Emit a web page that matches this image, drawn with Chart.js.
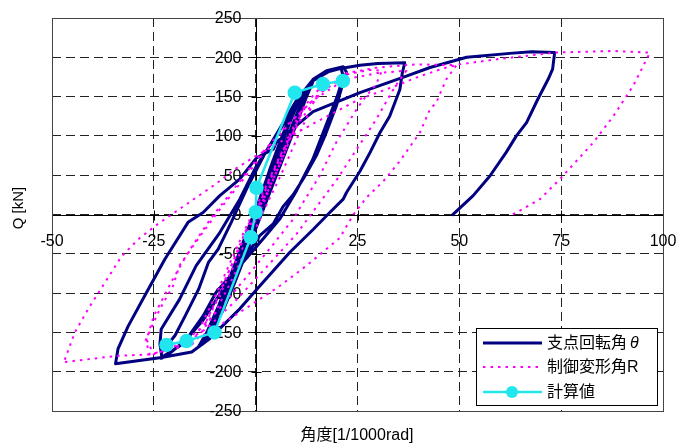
<!DOCTYPE html>
<html lang="ja">
  <head>
    <meta charset="UTF-8" />
    <title>Q - 角度</title>
    <script src="https://cdn.jsdelivr.net/npm/chart.js"></script>
    <style>
      body { margin: 0; background: #fff; }
    </style>
  </head>
  <body>
    <canvas id="qChart" width="691" height="448"></canvas>

    <script>
      // 目盛り
      const xTicks = [-50, -25, 0, 25, 50, 75, 100];
      const yTicks = [-250, -200, -150, -100, -50, 0, 50, 100, 150, 200, 250];

      // 支点回転角θ [x, Q]
      const thetaCurve = [
        [0, 0], [2, 25], [4, 55], [5.5, 80], [4.5, 65], [2, 30], [0, 0], [-2, -28], [-4, -55], [-5.5, -80], [-4.5, -66], [-2, -30], [0, 0],
        [2.5, 35], [5, 70], [7.5, 105], [9, 125], [7.5, 105], [5, 65], [2, 20], [-1, -20], [-4, -60], [-7, -100], [-9, -128], [-7.5, -110], [-5, -70], [-2, -25], [0.5, 10],
        [3, 50], [6, 92], [9, 130], [11, 150], [12.5, 160], [11, 140], [8, 100], [5, 55], [2, 15], [-1, -25], [-4, -65], [-7, -105], [-10, -140], [-12, -158], [-10.5, -140], [-8, -105], [-5, -62], [-2, -20], [1, 20],
        [4, 65], [7, 105], [10, 140], [13, 162], [11.5, 145], [9, 110], [6, 70], [3, 30], [0, -10], [-3, -50], [-6, -90], [-9, -130], [-11.5, -155], [-13, -165], [-11, -145], [-8, -110], [-5, -68], [-2, -28], [0.5, 5],
        [3.5, 58], [6.5, 100], [9.5, 138], [12, 158], [14, 168], [12.5, 150], [10, 115], [7, 75], [4, 35], [1, -5], [-2, -45], [-5, -85], [-8, -122], [-11, -150], [-14, -168], [-12, -150], [-9, -115], [-6, -75], [-3, -35], [0, 5],
        [3, 45], [6, 88], [9, 125], [11.5, 155], [14.1, 172], [17.4, 183], [21.5, 188], [22.3, 181], [21.5, 168], [19.8, 138], [17, 100], [14.9, 75], [12, 48], [9.2, 25], [6.7, 10], [4.3, -12], [1, -27], [-0.7, -40], [-4, -65], [-9.7, -99], [-12.9, -129], [-17, -159], [-21.9, -180], [-23.2, -183],
        [-23.1, -175], [-19.8, -154], [-17.3, -129], [-14, -95], [-11.6, -61], [-9.2, -44], [-6, -10], [-2, 35], [2, 75], [6, 110], [10, 145], [14, 170], [18, 182], [21, 186],
        [21.5, 175], [20, 150], [17, 110], [14, 70], [10, 30], [6, -5], [2, -30], [-3, -60], [-8, -95], [-13, -135], [-18, -165], [-22, -178], [-23, -182],
        [-23.5, -165], [-23.2, -146], [-18.7, -108], [-14.6, -65], [-8.8, -23], [-3.9, 19.5], [0, 60], [5, 100], [10, 140], [14.1, 172], [17.4, 183], [22.3, 187], [25.6, 190], [30, 192], [36.6, 193],
        [36, 180], [35.4, 159], [32.9, 125], [30.5, 104], [28.1, 79], [25.6, 55], [22.3, 28], [21.5, 19.5], [18.2, 2.5], [14.1, -19], [8.4, -48], [1, -91], [-3.9, -120], [-11.3, -158], [-15.7, -175], [-23.1, -182], [-34.4, -190],
        [-33.8, -171], [-31.3, -142], [-27.2, -103], [-22.3, -57], [-16.6, -10], [-12.9, 2.5], [-8.8, 24], [-3.9, 45], [0.2, 72], [4.3, 83], [5.1, 92], [14.1, 131], [25.6, 155], [37, 176], [42.8, 187], [51.8, 200], [62.4, 205], [67.7, 207], [73.4, 206],
        [72.9, 185], [71.8, 172], [69.2, 146], [66.5, 117], [64, 100], [61.5, 79], [57.5, 49], [53.4, 24], [50.3, 9], [48.2, -1],
      ];

      // 制御変形角R [x, Q]
      const rCurve = [
        [0, 0], [3, 30], [6, 65], [8, 90], [6.5, 70], [3, 30], [0, 0], [-3, -32], [-6, -65], [-8, -90], [-6.5, -72], [-3, -32], [0, 0],
        [3, 40], [7, 85], [10, 120], [12, 138], [10, 115], [6, 65], [2, 15], [-2, -30], [-6, -72], [-10, -115], [-12.5, -140], [-10.5, -118], [-6, -65], [-2, -15], [1, 15],
        [5, 60], [9, 105], [13, 145], [16, 162], [14, 140], [10, 95], [6, 48], [2, 5], [-2, -40], [-6, -85], [-10, -125], [-14, -155], [-16, -168], [-14, -148], [-10, -105], [-6, -58], [-2, -12], [2, 30],
        [6, 75], [11, 120], [16, 155], [22.3, 178], [28, 184], [31, 183], [29.5, 165], [27, 150], [24.8, 134], [22.3, 113], [19.8, 92], [15.7, 49], [11.6, 15], [9.2, -6], [4, -40], [-2, -78], [-8, -115], [-14, -148], [-20, -168], [-25, -178],
        [-26.8, -159], [-25, -129], [-20.3, -82], [-16.2, -45], [-11, -5], [-5, 35], [1, 75], [7, 110], [14, 145], [22, 172], [30, 180], [37, 183],
        [34.5, 165], [32.9, 151], [29.6, 121], [24.8, 83], [20, 45], [15, 10], [10, -25], [3, -65], [-5, -110], [-12, -145], [-20, -170], [-26, -178],
        [-27, -160], [-23.6, -121], [-20.3, -91], [-18.7, -65], [-14, -30], [-9, 5], [-3, 45], [3, 85], [10, 125], [16, 155], [22.3, 180], [30, 187], [39.4, 191], [49.3, 190],
        [46.8, 172], [44.3, 142], [42.8, 134], [40.3, 104], [35.4, 68], [31.3, 42], [27.3, 22], [24, 0], [20.6, -30], [12.5, -65], [5.9, -91], [-2, -118], [-10, -145], [-18, -168], [-26, -178], [-34.3, -180], [-47.3, -188],
        [-46.8, -184], [-44.4, -150], [-41.1, -120], [-37, -86.5], [-32.9, -53], [-28.5, -30], [-24, -12], [-17, 13], [-10, 38], [-5, 58], [0.2, 75], [8, 98], [15, 118], [25.6, 147], [34.6, 164], [40.3, 176], [46.8, 187], [50, 191], [60, 198], [73.5, 206], [80, 207], [87.8, 208], [96.8, 206],
        [92.7, 164], [87.8, 125], [82.9, 91.6], [74.7, 45], [69.8, 19.5], [64, 2.5], [63, 0],
      ];

      // 計算値 [x, Q]
      const calcPoints = [
        [-21.9, -166], [-17, -161], [-10.1, -150], [-1.2, -29], [0, 3], [0.2, 34], [9.6, 155], [16.5, 166], [21.4, 170],
      ];

      const toXY = (arr) => arr.map((p) => ({ x: p[0], y: p[1] }));
      const FONT = "'Liberation Sans', 'Noto Sans CJK JP', sans-serif";

      // 原点で交差する軸・目盛り・凡例・軸ラベル
      const axisDecor = {
        id: "axisDecor",
        beforeDatasetsDraw(chart) {
          const { ctx, chartArea: a, scales } = chart;
          const x0 = Math.round(scales.x.getPixelForValue(0)) + 0.5;
          const y0 = Math.round(scales.y.getPixelForValue(0)) + 0.5;
          ctx.save();
          ctx.setLineDash([]);
          ctx.strokeStyle = "#000";
          ctx.lineWidth = 1;
          ctx.beginPath();
          ctx.moveTo(a.left, y0);
          ctx.lineTo(a.right, y0);
          ctx.moveTo(x0, a.top);
          ctx.lineTo(x0, a.bottom);
          yTicks.forEach((v) => {
            const py = Math.round(scales.y.getPixelForValue(v)) + 0.5;
            ctx.moveTo(x0 - 5, py);
            ctx.lineTo(x0 + 5, py);
          });
          xTicks.forEach((v) => {
            const px = Math.round(scales.x.getPixelForValue(v)) + 0.5;
            ctx.moveTo(px, y0 - 5);
            ctx.lineTo(px, y0 + 5);
          });
          ctx.stroke();

          ctx.strokeStyle = "#444";
          ctx.strokeRect(Math.round(a.left) + 0.5, Math.round(a.top) + 0.5, Math.round(a.width), Math.round(a.height));

          ctx.fillStyle = "#000";
          ctx.font = "16px " + FONT;
          ctx.textAlign = "right";
          ctx.textBaseline = "middle";
          yTicks.forEach((v) => {
            ctx.fillText(String(v), x0 - 15, scales.y.getPixelForValue(v) + 1);
          });
          ctx.textAlign = "center";
          xTicks.forEach((v) => {
            ctx.fillText(String(v), scales.x.getPixelForValue(v), y0 + 26);
          });
          ctx.restore();
        },
        afterDraw(chart) {
          const { ctx } = chart;
          ctx.save();
          ctx.fillStyle = "#000";
          ctx.textBaseline = "middle";

          // 軸ラベル
          ctx.font = "16px " + FONT;
          ctx.textAlign = "center";
          ctx.fillText("角度[1/1000rad]", 357, 436);
          ctx.save();
          ctx.translate(19, 208);
          ctx.rotate(-Math.PI / 2);
          ctx.font = "15px " + FONT;
          ctx.fillText("Q [kN]", 0, 0);
          ctx.restore();

          // 凡例
          const bx = 476, by = 328, bw = 181, bh = 77;
          ctx.fillStyle = "#fff";
          ctx.fillRect(bx, by, bw, bh);
          ctx.strokeStyle = "#000";
          ctx.lineWidth = 1;
          ctx.strokeRect(bx + 0.5, by + 0.5, bw, bh);
          const rows = [343, 367, 392];
          chart.data.datasets.forEach((ds, i) => {
            const ly = rows[i];
            ctx.save();
            ctx.strokeStyle = ds.borderColor;
            ctx.lineWidth = ds.borderWidth;
            ctx.setLineDash(ds.borderDash || []);
            ctx.beginPath();
            ctx.moveTo(483, ly);
            ctx.lineTo(542, ly);
            ctx.stroke();
            if (ds.pointRadius > 0) {
              ctx.fillStyle = ds.pointBackgroundColor;
              ctx.beginPath();
              ctx.arc(512, ly, ds.pointRadius, 0, Math.PI * 2);
              ctx.fill();
            }
            ctx.restore();
            ctx.fillStyle = "#000";
            ctx.textAlign = "left";
            // θ はイタリック
            let label = ds.label;
            let tail = "";
            if (label.endsWith("θ")) {
              tail = "θ";
              label = label.slice(0, -1);
            }
            ctx.font = "16px " + FONT;
            ctx.fillText(label, 547, ly + 1);
            if (tail) {
              const w = ctx.measureText(label).width;
              ctx.font = "italic 16px " + FONT;
              ctx.fillText(tail, 547 + w + 3, ly + 1);
            }
          });
          ctx.restore();
        },
      };

      const ctx = document.getElementById("qChart").getContext("2d");
      new Chart(ctx, {
        type: "scatter",
        data: {
          datasets: [
            {
              label: "支点回転角θ",
              data: toXY(thetaCurve),
              showLine: true,
              borderColor: "#000080",
              borderWidth: 3,
              pointRadius: 0,
              order: 3,
            },
            {
              label: "制御変形角R",
              data: toXY(rCurve),
              showLine: true,
              borderColor: "#ff00ff",
              borderWidth: 2,
              borderDash: [2.5, 5],
              pointRadius: 0,
              order: 2,
            },
            {
              label: "計算値",
              data: toXY(calcPoints),
              showLine: true,
              borderColor: "#22e6ee",
              borderWidth: 2.5,
              pointRadius: 6,
              pointBackgroundColor: "#22e6ee",
              pointBorderColor: "#22e6ee",
              order: 1,
            },
          ],
        },
        options: {
          responsive: false,
          animation: false,
          layout: { padding: { left: 52, right: 28, top: 18, bottom: 37 } },
          plugins: {
            legend: { display: false },
            tooltip: { enabled: false },
          },
          elements: { line: { tension: 0, borderJoinStyle: "round" } },
          scales: {
            x: {
              type: "linear",
              min: -50,
              max: 100,
              afterBuildTicks: (s) => { s.ticks = xTicks.map((v) => ({ value: v })); },
              ticks: { display: false },
              grid: { color: "#222", lineWidth: 1, drawTicks: false },
              border: { display: false, dash: [9, 5] },
            },
            y: {
              type: "linear",
              min: -250,
              max: 250,
              afterBuildTicks: (s) => { s.ticks = yTicks.map((v) => ({ value: v })); },
              ticks: { display: false },
              grid: { color: "#222", lineWidth: 1, drawTicks: false },
              border: { display: false, dash: [9, 5] },
            },
          },
        },
        plugins: [axisDecor],
      });
    </script>
  </body>
</html>
